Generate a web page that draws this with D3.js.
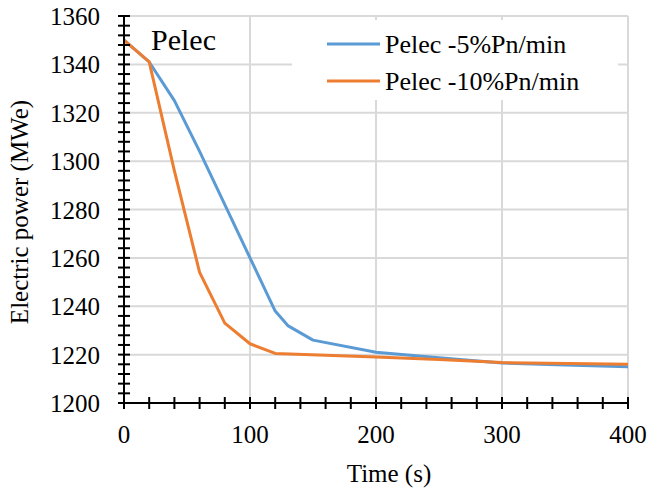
<!DOCTYPE html>
<html>
<head>
<meta charset="utf-8">
<script src="https://cdn.jsdelivr.net/npm/d3@7"></script>
<style>
  body { margin: 0; background: #fff; }
  text { font-family: "Liberation Serif", "Times New Roman", serif; fill: #000; }
</style>
</head>
<body>
<div id="chart"></div>
<script>
let w = 650;
let h = 490;

// data
let time5 = [0, 20, 40, 60, 80, 100, 120, 130, 150, 200, 250, 300, 350, 400];
let pelec5 = [1350, 1341, 1325, 1304, 1282, 1260, 1238, 1232, 1226, 1221, 1218.7, 1216.5, 1215.7, 1215];
let time10 = [0, 20, 40, 60, 80, 100, 120, 200, 250, 300, 400];
let pelec10 = [1350, 1341, 1296, 1254, 1233, 1224.5, 1220.5, 1219, 1218, 1216.7, 1216];
let seriesNames = ["Pelec -5%Pn/min", "Pelec -10%Pn/min"];
let colors = ["#5b9bd5", "#ed7d31"];
let xTicks = [0, 100, 200, 300, 400];
let yTicks = [1200, 1220, 1240, 1260, 1280, 1300, 1320, 1340, 1360];

let padL = 124, padR = 628, padT = 16, padB = 403;

let svg = d3.select("#chart").append("svg")
  .attr("width", w)
  .attr("height", h);

let xScale = d3.scaleLinear().domain([0, 400]).range([padL, padR]);
let yScale = d3.scaleLinear().domain([1200, 1360]).range([padB, padT]);

// gridlines
svg.append("g").selectAll("line").data(yTicks.slice(1)).enter()
  .append("line")
  .attr("x1", padL).attr("x2", padR)
  .attr("y1", d => yScale(d)).attr("y2", d => yScale(d))
  .attr("stroke", "#d9d9d9").attr("stroke-width", 2);
svg.append("g").selectAll("line").data(xTicks.slice(1)).enter()
  .append("line")
  .attr("x1", d => xScale(d)).attr("x2", d => xScale(d))
  .attr("y1", padT).attr("y2", padB)
  .attr("stroke", "#d9d9d9").attr("stroke-width", 2);

// legend background hides grid
svg.append("rect")
  .attr("x", 292).attr("y", 20).attr("width", 326).attr("height", 80)
  .attr("fill", "#fff");

// lines
let line = d3.line().x(d => xScale(d[0])).y(d => yScale(d[1]));
let series = [
  d3.zip(time5, pelec5),
  d3.zip(time10, pelec10)
];
svg.selectAll(".series").data(series).enter()
  .append("path")
  .attr("class", "series")
  .attr("d", line)
  .attr("fill", "none")
  .attr("stroke", (d, i) => colors[i])
  .attr("stroke-width", 3)
  .attr("stroke-linejoin", "round");

// axes: minor ticks crossing the axis
let xAxis = svg.append("g").attr("transform", "translate(0," + padB + ")");
xAxis.append("line").attr("x1", padL - 6).attr("x2", padR).attr("stroke", "#000").attr("stroke-width", 2);
xAxis.selectAll(".tk").data(d3.range(0, 401, 20)).enter()
  .append("line")
  .attr("x1", d => xScale(d)).attr("x2", d => xScale(d))
  .attr("y1", -6).attr("y2", 6)
  .attr("stroke", "#000").attr("stroke-width", 2);
xAxis.selectAll(".lbl").data(xTicks).enter()
  .append("text")
  .attr("x", d => xScale(d)).attr("y", 40)
  .attr("text-anchor", "middle")
  .style("font-size", "25px")
  .text(d => d);

let yAxis = svg.append("g").attr("transform", "translate(" + padL + ",0)");
yAxis.append("line").attr("y1", padT).attr("y2", padB + 6).attr("stroke", "#000").attr("stroke-width", 2);
yAxis.selectAll(".tk").data(d3.range(1200, 1361, 4)).enter()
  .append("line")
  .attr("y1", d => yScale(d)).attr("y2", d => yScale(d))
  .attr("x1", -6).attr("x2", 6)
  .attr("stroke", "#000").attr("stroke-width", 2);
yAxis.selectAll(".lbl").data(yTicks).enter()
  .append("text")
  .attr("x", -24).attr("y", d => yScale(d) + 9)
  .attr("text-anchor", "end")
  .style("font-size", "25px")
  .text(d => d);

// titles
svg.append("text")
  .attr("x", 389).attr("y", 482)
  .attr("text-anchor", "middle")
  .style("font-size", "25px")
  .text("Time (s)");
svg.append("text")
  .attr("transform", "translate(28,212) rotate(-90)")
  .attr("text-anchor", "middle")
  .style("font-size", "25px")
  .text("Electric power (MWe)");

svg.append("text")
  .attr("x", 151).attr("y", 50)
  .style("font-size", "30px")
  .text("Pelec");

// legend
let legend = svg.selectAll(".leg").data(seriesNames).enter()
  .append("g")
  .attr("transform", (d, i) => "translate(327," + (44 + i * 37) + ")");
legend.append("line")
  .attr("x1", 0).attr("x2", 53)
  .attr("stroke", (d, i) => colors[i]).attr("stroke-width", 3);
legend.append("text")
  .attr("x", 58).attr("y", 9)
  .style("font-size", "26px")
  .text(d => d);
</script>
</body>
</html>
